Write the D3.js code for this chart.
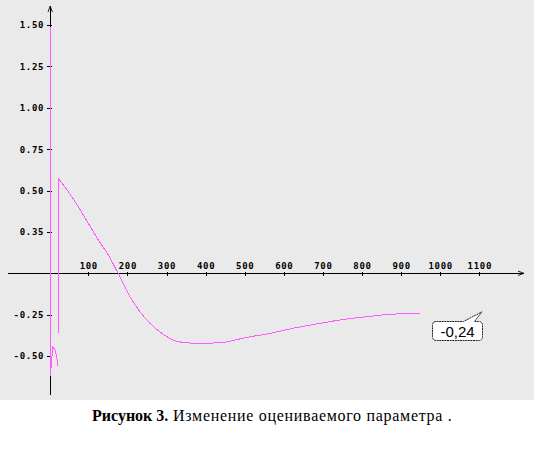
<!DOCTYPE html>
<html>
<head>
<meta charset="utf-8">
<title>Рисунок 3</title>
<style>
  body { margin: 0; background: #fff; }
  svg { display: block; }
  .tick text { font-family: "DejaVu Sans Mono", monospace; font-weight: bold; font-size: 9px; letter-spacing: 0.7px; fill: #000; }
</style>
</head>
<body>
<script src="https://cdn.jsdelivr.net/npm/d3@7/dist/d3.min.js"></script>
<script>
// данные
var xTicks = [100, 200, 300, 400, 500, 600, 700, 800, 900, 1000, 1100];
var yTicks = [-0.5, -0.25, 0.25, 0.5, 0.75, 1.0, 1.25, 1.5];
var yLabels = ["-0.50", "-0.25", "0.35", "0.50", "0.75", "1.00", "1.25", "1.50"];

// первый участок: выброс в начале и маленький крючок
var spikeX = [2.8, 2.8, 3.8, 5.9, 9, 14.9, 19.2, 22.5];
var spikeY = [1.49, -0.62, -0.596, -0.536, -0.445, -0.463, -0.505, -0.561];
// второй участок: скачок вверх и основная кривая
var mainX = [23.3, 23.3, 48.8, 74.4, 100, 125.6, 151.2, 176, 206.6, 232, 257.7, 291.8, 317.4, 343, 385.7, 445, 505, 564.7, 624, 684, 743.7, 812, 871.6, 948];
var mainY = [-0.36, 0.574, 0.493, 0.402, 0.302, 0.201, 0.111, 0, -0.141, -0.232, -0.302, -0.369, -0.403, -0.418, -0.423, -0.417, -0.387, -0.363, -0.332, -0.306, -0.282, -0.262, -0.248, -0.242];
var lastValue = "-0,24";
var caption = ["Рисунок 3.", " Изменение оцениваемого параметра ."];

var width = 534, height = 452;
var svg = d3.select("body").append("svg")
  .attr("width", width)
  .attr("height", height);

svg.append("rect")
  .attr("width", width).attr("height", 400)
  .attr("fill", "#eaeaea");

var x = d3.scaleLinear().domain([0, 1100]).range([49.2, 479.3]);
var y = d3.scaleLinear().domain([0, 1.5]).range([273.3, 25]);

// оси со стрелками
svg.append("defs").append("marker")
  .attr("id", "arr").attr("viewBox", "0 0 8 8").attr("refX", 7).attr("refY", 4)
  .attr("markerWidth", 7).attr("markerHeight", 7).attr("orient", "auto")
  .append("path").attr("d", "M0,1.5 L7,4 L0,6.5").attr("fill", "none").attr("stroke", "#000").attr("stroke-width", 1);

svg.append("line")
  .attr("x1", 8).attr("x2", 524).attr("y1", y(0)).attr("y2", y(0))
  .attr("stroke", "#000").attr("shape-rendering", "crispEdges")
  .attr("marker-end", "url(#arr)");
svg.append("line")
  .attr("x1", x(0) + 1).attr("x2", x(0) + 1).attr("y1", 395).attr("y2", 6)
  .attr("stroke", "#000").attr("shape-rendering", "crispEdges")
  .attr("marker-end", "url(#arr)");

var xAxis = svg.append("g")
  .attr("transform", "translate(0," + y(0) + ")")
  .call(d3.axisBottom(x).tickValues(xTicks).tickFormat(d3.format("d")).tickSize(3));
xAxis.select(".domain").remove();
xAxis.selectAll(".tick line").attr("y1", -1).attr("y2", 3).attr("shape-rendering", "crispEdges");
xAxis.selectAll(".tick text").attr("y", -4).attr("dy", 0);

var yAxis = svg.append("g")
  .attr("transform", "translate(" + (x(0) + 1) + ",0)")
  .call(d3.axisLeft(y).tickValues(yTicks).tickFormat(function(d, i) { return yLabels[i]; }).tickSize(3));
yAxis.select(".domain").remove();
yAxis.selectAll(".tick line").attr("x1", -3).attr("x2", 2).attr("shape-rendering", "crispEdges");
yAxis.selectAll(".tick text").attr("x", -6);

// кривая
var line = d3.line().x(function(d) { return x(d[0]); }).y(function(d) { return y(d[1]); });
var smooth = d3.line().curve(d3.curveMonotoneX)
  .x(function(d) { return x(d[0]); }).y(function(d) { return y(d[1]); });
var mainPts = d3.zip(mainX, mainY);
[[d3.zip(spikeX, spikeY), line], [mainPts.slice(0, 2), line], [mainPts.slice(1), smooth]].forEach(function(s) {
  svg.append("path")
    .datum(s[0])
    .attr("d", s[1])
    .attr("fill", "none")
    .attr("stroke", "#ff5cff")
    .attr("stroke-width", 1)
    .attr("shape-rendering", "crispEdges");
});

// выноска с последним значением
var lx = x(mainX[mainX.length - 1]), ly = y(mainY[mainY.length - 1]);
var bx = 432.5, by = 321.5, bw = 50, bh = 19;
var tipX = lx + 62, tipY = ly - 1.5;
svg.append("path")
  .attr("d", "M" + (bx + 4) + "," + by + " L" + (bx + 31) + "," + by + " L" + tipX + "," + tipY +
    " L" + (bx + 42) + "," + by + " L" + (bx + bw - 4) + "," + by +
    " Q" + (bx + bw) + "," + by + " " + (bx + bw) + "," + (by + 4) +
    " L" + (bx + bw) + "," + (by + bh - 4) +
    " Q" + (bx + bw) + "," + (by + bh) + " " + (bx + bw - 4) + "," + (by + bh) +
    " L" + (bx + 4) + "," + (by + bh) +
    " Q" + bx + "," + (by + bh) + " " + bx + "," + (by + bh - 4) +
    " L" + bx + "," + (by + 4) +
    " Q" + bx + "," + by + " " + (bx + 4) + "," + by + " Z")
  .attr("fill", "#fff").attr("stroke", "#222").attr("stroke-width", 1)
  .attr("stroke-dasharray", "2,0.6");
svg.append("text")
  .attr("x", bx + bw / 2).attr("y", by + 15.5)
  .attr("text-anchor", "middle")
  .style("font-family", "Liberation Sans, Arial, sans-serif")
  .style("font-size", "15px")
  .text(lastValue);

// подпись
var cap = svg.append("text")
  .attr("x", 92).attr("y", 421)
  .style("font-family", "Liberation Serif, Times New Roman, serif")
  .style("font-size", "16px");
cap.append("tspan").attr("font-weight", "bold").text(caption[0]);
cap.append("tspan").style("letter-spacing", "0.7px").text(caption[1]);
</script>
</body>
</html>
